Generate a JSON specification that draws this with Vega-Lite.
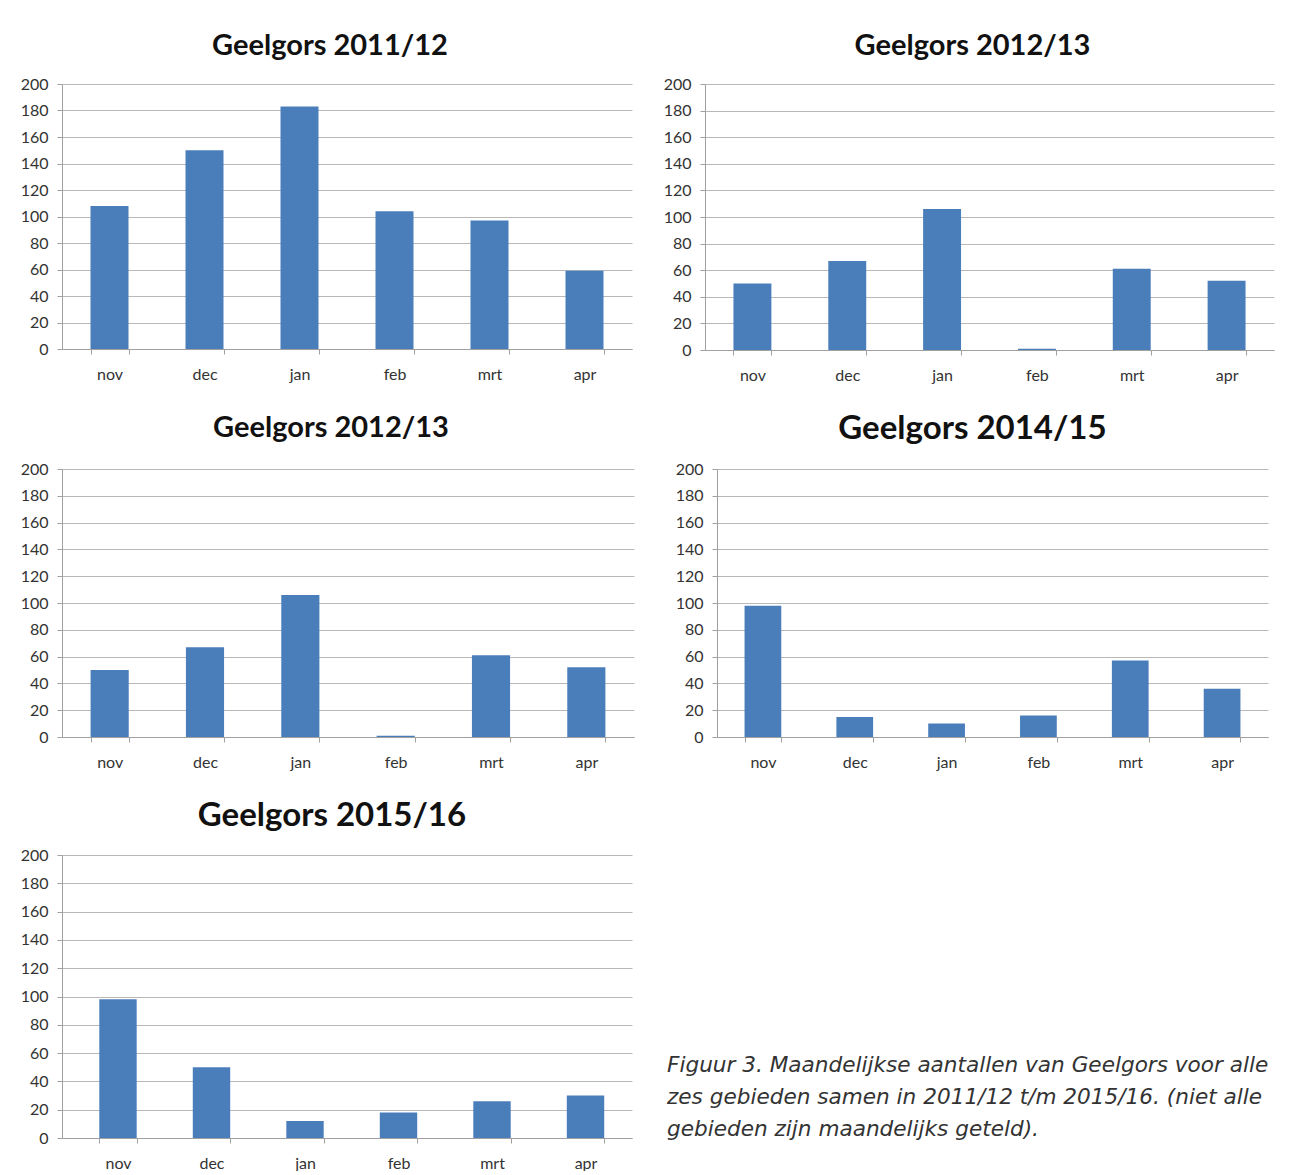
{
  "$schema": "https://vega.github.io/schema/vega-lite/v6.json",
  "background": "white",
  "padding": {"left": 20, "top": 32, "right": 0, "bottom": 0},
  "datasets": {
    "geelgors": [
      {"season": "2011/12", "month": "nov", "count": 108},
      {"season": "2011/12", "month": "dec", "count": 150},
      {"season": "2011/12", "month": "jan", "count": 183},
      {"season": "2011/12", "month": "feb", "count": 104},
      {"season": "2011/12", "month": "mrt", "count": 97},
      {"season": "2011/12", "month": "apr", "count": 59},
      {"season": "2012/13", "month": "nov", "count": 50},
      {"season": "2012/13", "month": "dec", "count": 67},
      {"season": "2012/13", "month": "jan", "count": 106},
      {"season": "2012/13", "month": "feb", "count": 1},
      {"season": "2012/13", "month": "mrt", "count": 61},
      {"season": "2012/13", "month": "apr", "count": 52},
      {"season": "2014/15", "month": "nov", "count": 98},
      {"season": "2014/15", "month": "dec", "count": 15},
      {"season": "2014/15", "month": "jan", "count": 10},
      {"season": "2014/15", "month": "feb", "count": 16},
      {"season": "2014/15", "month": "mrt", "count": 57},
      {"season": "2014/15", "month": "apr", "count": 36},
      {"season": "2015/16", "month": "nov", "count": 98},
      {"season": "2015/16", "month": "dec", "count": 50},
      {"season": "2015/16", "month": "jan", "count": 12},
      {"season": "2015/16", "month": "feb", "count": 18},
      {"season": "2015/16", "month": "mrt", "count": 26},
      {"season": "2015/16", "month": "apr", "count": 30}
    ]
  },
  "bounds": "full",
  "spacing": 30,
  "vconcat": [
    {
      "bounds": "flush",
      "spacing": 73,
      "hconcat": [
        {
          "width": 570, "height": 265,
          "data": {"name": "geelgors"},
          "title": {"text": "Geelgors 2011/12", "fontSize": 29, "dx": -17, "offset": 15},
          "transform": [{"filter": "datum.season === '2011/12'"}],
          "mark": {"type": "bar"},
          "encoding": {
            "x": {"field": "month", "type": "nominal", "sort": ["nov", "dec", "jan", "feb", "mrt", "apr"], "scale": {"paddingInner": 0.6, "paddingOuter": 0.3}},
            "y": {"field": "count", "type": "quantitative", "scale": {"domain": [0, 200], "nice": false}}
          }
        },
        {
          "width": 569, "height": 266,
          "data": {"name": "geelgors"},
          "title": {"text": "Geelgors 2012/13", "fontSize": 29, "dx": -17, "offset": 15},
          "transform": [{"filter": "datum.season === '2012/13'"}],
          "mark": {"type": "bar"},
          "encoding": {
            "x": {"field": "month", "type": "nominal", "sort": ["nov", "dec", "jan", "feb", "mrt", "apr"], "scale": {"paddingInner": 0.6, "paddingOuter": 0.3}},
            "y": {"field": "count", "type": "quantitative", "scale": {"domain": [0, 200], "nice": false}}
          }
        }
      ]
    },
    {
      "bounds": "flush",
      "spacing": 83,
      "hconcat": [
        {
          "width": 572, "height": 268,
          "data": {"name": "geelgors"},
          "title": {"text": "Geelgors 2012/13", "fontSize": 29, "dx": -17, "offset": 18},
          "transform": [{"filter": "datum.season === '2012/13'"}],
          "mark": {"type": "bar"},
          "encoding": {
            "x": {"field": "month", "type": "nominal", "sort": ["nov", "dec", "jan", "feb", "mrt", "apr"], "scale": {"paddingInner": 0.6, "paddingOuter": 0.3}},
            "y": {"field": "count", "type": "quantitative", "scale": {"domain": [0, 200], "nice": false}}
          }
        },
        {
          "width": 551, "height": 268,
          "data": {"name": "geelgors"},
          "title": {"text": "Geelgors 2014/15", "fontSize": 33, "dx": -20, "offset": 15},
          "transform": [{"filter": "datum.season === '2014/15'"}],
          "mark": {"type": "bar"},
          "encoding": {
            "x": {"field": "month", "type": "nominal", "sort": ["nov", "dec", "jan", "feb", "mrt", "apr"], "scale": {"paddingInner": 0.6, "paddingOuter": 0.3}},
            "y": {"field": "count", "type": "quantitative", "scale": {"domain": [0, 200], "nice": false}}
          }
        }
      ]
    },
    {
      "bounds": "flush",
      "spacing": 35,
      "hconcat": [
        {
          "width": 570, "height": 283,
          "data": {"name": "geelgors"},
          "title": {"text": "Geelgors 2015/16", "fontSize": 33, "dx": -15, "offset": 14},
          "transform": [{"filter": "datum.season === '2015/16'"}],
          "mark": {"type": "bar"},
          "encoding": {
            "x": {"field": "month", "type": "nominal", "sort": ["nov", "dec", "jan", "feb", "mrt", "apr"], "scale": {"paddingInner": 0.6, "paddingOuter": 0.348, "align": 0.573}},
            "y": {"field": "count", "type": "quantitative", "scale": {"domain": [0, 200], "nice": false}}
          }
        },
        {
          "width": 615, "height": 283,
          "data": {"values": [
            {"line": 1, "text": "Figuur 3. Maandelijkse aantallen van Geelgors voor alle"},
            {"line": 2, "text": "zes gebieden samen in 2011/12 t/m 2015/16. (niet alle"},
            {"line": 3, "text": "gebieden zijn maandelijks geteld)."}
          ]},
          "mark": {"type": "text", "align": "left", "baseline": "middle", "font": "DejaVu Sans", "fontStyle": "italic", "fontSize": 21.6, "color": "#333333"},
          "encoding": {
            "x": {"datum": 0, "type": "quantitative", "scale": {"domain": [0, 1], "nice": false, "zero": false}, "axis": null},
            "y": {"field": "line", "type": "quantitative", "scale": {"domain": [-5.6, 3.25], "reverse": true, "nice": false, "zero": false}, "axis": null},
            "text": {"field": "text"}
          }
        }
      ]
    }
  ],
  "config": {
    "view": {"stroke": null},
    "font": "Lato",
    "title": {"font": "Lato", "fontWeight": "bold", "color": "#111111", "anchor": "middle", "frame": "group"},
    "bar": {"color": "#4a7ebb"},
    "axis": {"labelFont": "Lato", "labelFontSize": 16, "labelColor": "#333333", "domainColor": "#a0a0a0", "tickColor": "#a0a0a0", "tickSize": 5, "title": null},
    "axisY": {"gridColor": "#b8b8b8", "labelPadding": 9, "tickCount": 10},
    "axisX": {"labelAngle": 0, "labelPadding": 12, "tickBand": "extent", "grid": false}
  }
}
